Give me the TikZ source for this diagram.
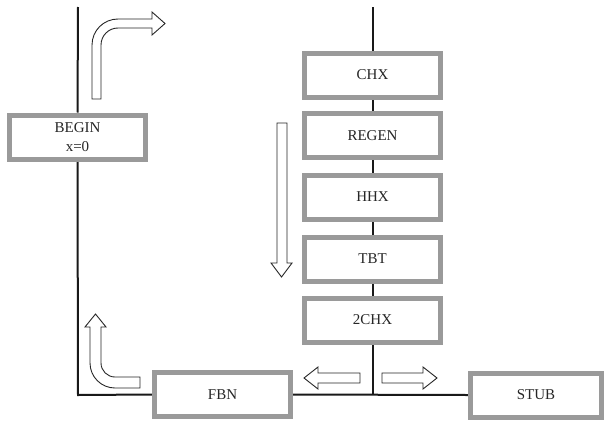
\documentclass[tikz,border=0pt]{standalone}
\usepackage{fontspec}
\setmainfont{Liberation Serif}
\pgfdeclarelayer{background}
\pgfsetlayers{background,main}
\begin{document}
\begin{tikzpicture}[x=1pt,y=-1pt,
  blk/.style={draw=boxgray,line width=5pt,fill=white,rectangle,minimum width=136pt,minimum height=44pt,inner sep=0pt,align=center,font=\fontsize{15}{19}\selectfont,text=black!85},
  wire/.style={line width=2pt,black!90},
  barrow/.style={draw=black!85,line width=0.9pt,fill=white,line join=miter}]
\definecolor{boxgray}{HTML}{9A9A9A}
\useasboundingbox (0,0) rectangle (604,423);
% nodes
\node[blk] (begin) at (77.5,137) {BEGIN\\x=0};
\node[blk] (chx) at (372.5,75) {CHX};
\node[blk] (regen) at (372.5,135.5) {REGEN};
\node[blk] (hhx) at (372.5,197) {HHX};
\node[blk] (tbt) at (372.5,259) {TBT};
\node[blk] (chx2) at (372.5,320) {2CHX};
\node[blk] (fbn) at (222.5,394.5) {FBN};
\node[blk,minimum width=131pt] (stub) at (536,395) {STUB};
\coordinate (ltop) at (78,7);
\coordinate (lcorner) at (78,395);
\coordinate (rtop) at (372.5,7);
\coordinate (junc) at (372.5,395);
% wires (behind boxes)
\begin{pgfonlayer}{background}
\draw[wire] (ltop) -- (begin.north);
\draw[wire] (begin.south) -- (lcorner) -- (fbn.west);
\draw[wire] (fbn.east) -- (stub.west);
\draw[wire] (rtop) -- (chx.north);
\draw[wire] (chx.south) -- (regen.north);
\draw[wire] (regen.south) -- (hhx.north);
\draw[wire] (hhx.south) -- (tbt.north);
\draw[wire] (tbt.south) -- (chx2.north);
\draw[wire] (chx2.south) -- (junc);
\end{pgfonlayer}
% block arrows
\draw[barrow] (92,99) -- (92,45) .. controls (92,30.6) and (103.6,19) .. (118,19)
  -- (152,19) -- (152,12) -- (165,23.5) -- (152,35) -- (152,28) -- (118,28)
  .. controls (108.6,28) and (101,35.6) .. (101,45) -- (101,99) -- cycle;
\draw[barrow] (140,377) -- (115,377) .. controls (107.3,377) and (101,370.7) .. (101,363)
  -- (101,327) -- (106,327) -- (95.5,314) -- (85,327) -- (90,327) -- (90,363)
  .. controls (90,376.8) and (101.2,388) .. (115,388) -- (140,388) -- cycle;
\draw[barrow] (277,123) -- (287,123) -- (287,263) -- (292,263) -- (281.5,277) -- (271,263) -- (277,263) -- cycle;
\draw[barrow] (360,373) -- (318,373) -- (318,367) -- (304,378) -- (318,389) -- (318,383) -- (360,383) -- cycle;
\draw[barrow] (382,373) -- (423,373) -- (423,367) -- (437,378) -- (423,389) -- (423,383) -- (382,383) -- cycle;
\end{tikzpicture}
\end{document}
